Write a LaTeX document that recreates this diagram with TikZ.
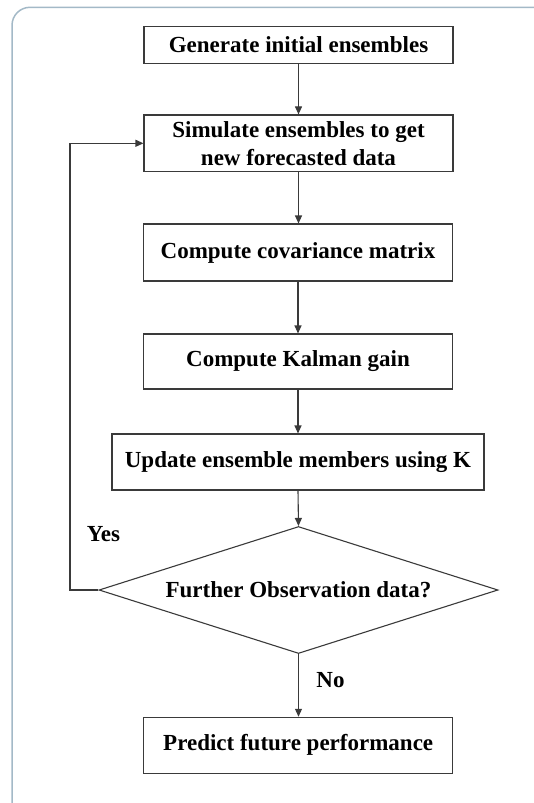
\documentclass[tikz,border=0pt]{standalone}
\usepackage{fontspec}
\setmainfont{Liberation Serif}
\usetikzlibrary{arrows.meta,shapes.geometric}
\definecolor{framecol}{HTML}{A3B9C7}
\definecolor{edgecol}{HTML}{3A3A3A}
\begin{document}
\begin{tikzpicture}[x=1pt,y=-1pt,
  txt/.style={font=\bfseries\fontsize{23}{28}\selectfont, text=black},
  stepbox/.style={txt, draw=edgecol, line width=1.1pt, inner sep=0pt,
    minimum width=309pt, minimum height=56pt, align=center},
  decision/.style={txt, diamond, draw=edgecol, line width=1.1pt, inner sep=0pt,
    shape aspect=3.14, minimum width=399pt, minimum height=127pt},
  flow/.style={draw=edgecol, line width=1.1pt, -{Triangle[length=8pt,width=7pt]}},
  lbl/.style={txt, inner sep=0pt}
]
\useasboundingbox (0,0) rectangle (534,803);
\clip (0,0) rectangle (534,803);

% outer rounded panel frame
\draw[framecol, line width=1.5pt, rounded corners=18pt] (12,840) -- (12,7.3) -- (580,7.3);

% process steps
\node[stepbox, minimum height=37.3pt] (gen)  at (298.5,44.7)  {Generate initial ensembles};
\node[stepbox, minimum height=56.7pt] (sim)  at (298.5,143.3) {Simulate ensembles to get\\new forecasted data};
\node[stepbox, minimum height=57pt]   (cov)  at (298,252.5)   {Compute covariance matrix};
\node[stepbox, minimum height=55pt]   (gain) at (298,361.5)   {Compute Kalman gain};
\node[stepbox, minimum width=372pt]   (upd)  at (298,462)     {Update ensemble members using K};
\node[decision] (obs) at (298.5,590) {Further Observation data?};
\node[stepbox] (pred) at (298.2,745.3) {Predict future performance};

% main flow
\draw[flow] (gen.south)  -- (sim.north);
\draw[flow] (sim.south)  -- (sim.south |- cov.north);
\draw[flow] (cov.south)  -- (gain.north);
\draw[flow] (gain.south) -- (upd.north);
\draw[flow] (upd.south)  -- (obs.north);
\draw[flow] (obs.south)  -- (obs.south |- pred.north);

% feedback loop
\coordinate (loopx) at (70,0);
\draw[flow] (obs.west) -- (loopx |- obs.west) -- (loopx |- sim.west) -- (sim.west);

% branch labels
\node[lbl, anchor=base] (yes) at (103.5,541.7) {Yes};
\node[lbl, anchor=base] (no)  at (330.5,687)   {No};
\end{tikzpicture}
\end{document}
